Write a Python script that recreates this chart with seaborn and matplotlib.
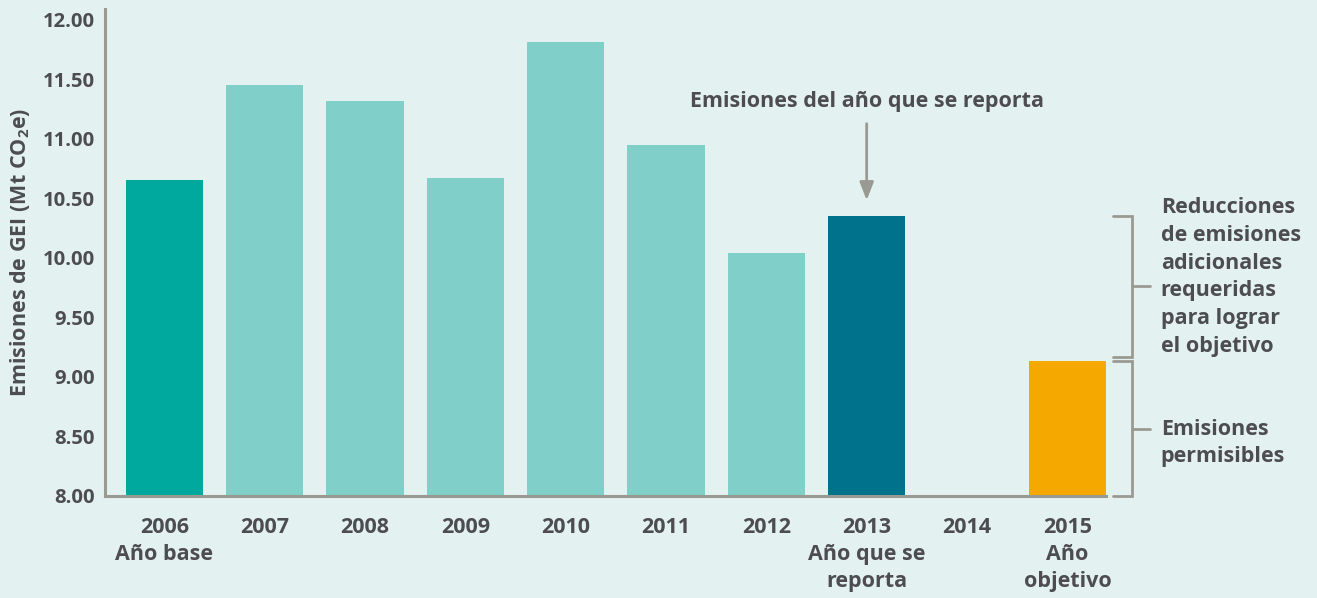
import matplotlib

matplotlib.use("Agg")

import matplotlib.pyplot as plt
import numpy as np
import seaborn as sns

YEARS = ["2006", "2007", "2008", "2009", "2010", "2011", "2012", "2013", "2014", "2015"]
EMISSIONS = [10.65, 11.45, 11.32, 10.67, 11.81, 10.95, 10.04, 10.35, np.nan, 9.13]
TICK_LABELS = [
    "2006\nAño base", "2007", "2008", "2009", "2010", "2011", "2012",
    "2013\nAño que se\nreporta", "2014", "2015\nAño\nobjetivo",
]
BAR_COLORS = ["#00A99D", "#80CFC9", "#80CFC9", "#80CFC9", "#80CFC9", "#80CFC9",
              "#80CFC9", "#00728C", "#80CFC9", "#F5A800"]
Y_TICKS = [8.0, 8.5, 9.0, 9.5, 10.0, 10.5, 11.0, 11.5, 12.0]

BG = "#E3F1F1"
TEXT = "#4D4D4F"
LINE = "#9A9A92"
FS = 15.5

sns.set_theme(style="white")
plt.rcParams["font.family"] = ["Open Sans", "DejaVu Sans"]
plt.rcParams["font.weight"] = "bold"
plt.rcParams["mathtext.fontset"] = "custom"
plt.rcParams["mathtext.rm"] = "Open Sans:bold"
plt.rcParams["mathtext.it"] = "Open Sans:bold"
plt.rcParams["mathtext.default"] = "rm"

fig = plt.figure(figsize=(13.17, 5.98), dpi=100, facecolor=BG)
ax = fig.add_axes([0.0797, 0.1706, 0.7601, 0.8144])
ax.set_facecolor(BG)

sns.barplot(x=YEARS, y=EMISSIONS, hue=YEARS, palette=BAR_COLORS, legend=False,
            width=0.77, saturation=1, linewidth=0, edgecolor="none", ax=ax)

ax.set_ylim(8.0, 12.09)
ax.set_xlim(-0.59, 9.385)
ax.set_yticks(Y_TICKS)
ax.set_yticklabels([f"{v:.2f}" for v in Y_TICKS], fontsize=14.6, fontweight="bold", color=TEXT)
ax.set_xticks(range(len(YEARS)))
ax.set_xticklabels(TICK_LABELS, fontsize=FS, fontweight="bold", color=TEXT, linespacing=1.38)
ax.tick_params(axis="y", length=0, pad=7)
ax.tick_params(axis="x", length=0, pad=15)
ax.set_xlabel("")
ax.set_ylabel("Emisiones de GEI (Mt CO$_2$e)", fontsize=FS, fontweight="bold", color=TEXT, labelpad=8)

for side in ["top", "right"]:
    ax.spines[side].set_visible(False)
for side in ["left", "bottom"]:
    ax.spines[side].set_color(LINE)
    ax.spines[side].set_linewidth(2.2)

# arrow pointing at reported year
i_rep = YEARS.index("2013")
ax.annotate("", xy=(i_rep, EMISSIONS[i_rep] + 0.11), xytext=(i_rep, 11.15),
            arrowprops=dict(arrowstyle="-|>,head_length=0.9,head_width=0.35", color=LINE, lw=2))
ax.text(i_rep, 11.31, "Emisiones del año que se reporta", ha="center", va="center",
        fontsize=FS, fontweight="bold", color=TEXT)

# brackets on the right
target = EMISSIONS[YEARS.index("2015")]
x0, x1, x2 = 9.45, 9.64, 9.82


def bracket(top, bottom):
    ax.plot([x0, x1, x1, x0], [top, top, bottom, bottom], color=LINE, lw=2, clip_on=False,
            solid_joinstyle="miter")
    mid = (top + bottom) / 2
    ax.plot([x1, x2], [mid, mid], color=LINE, lw=2, clip_on=False)
    return mid


mid1 = bracket(EMISSIONS[i_rep], target + 0.04)
mid2 = bracket(target, 8.0)
ax.text(9.93, mid1 + 0.08, "Reducciones\nde emisiones\nadicionales\nrequeridas\npara lograr\nel objetivo",
        ha="left", va="center", fontsize=FS, fontweight="bold", color=TEXT, linespacing=1.42)
ax.text(9.93, mid2 - 0.12, "Emisiones\npermisibles", ha="left", va="center",
        fontsize=FS, fontweight="bold", color=TEXT, linespacing=1.42)

fig.savefig("out.png", dpi=100, facecolor=BG)
